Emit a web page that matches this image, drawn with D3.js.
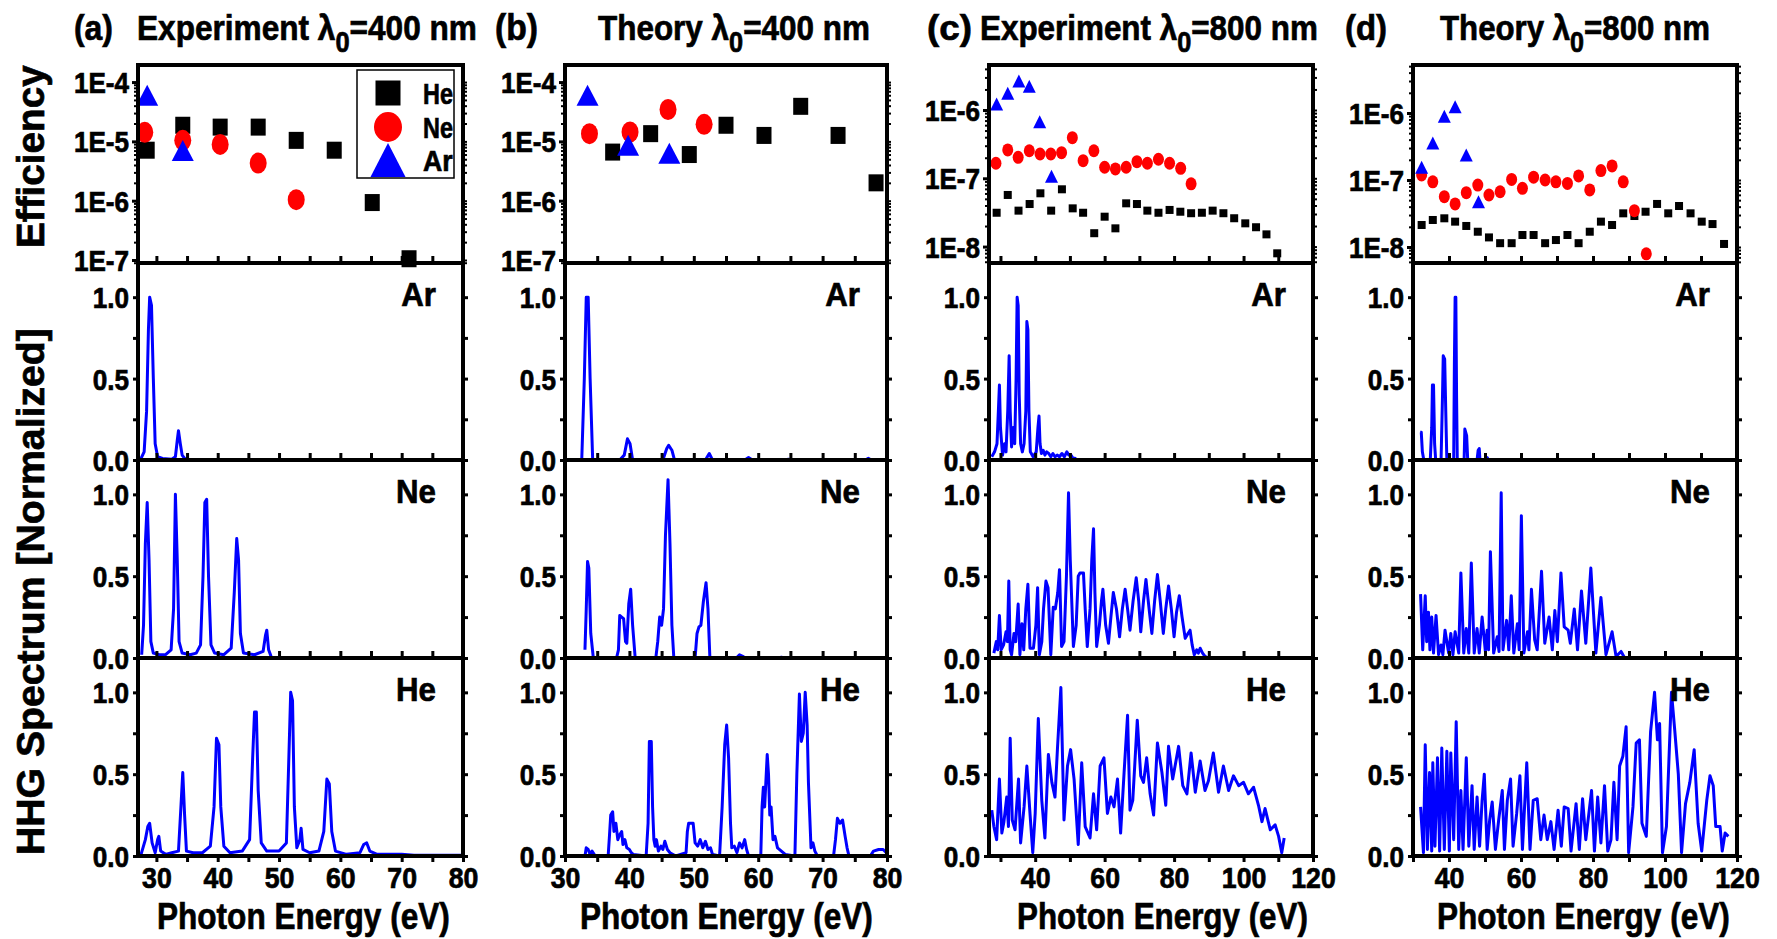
<!DOCTYPE html>
<html>
<head>
<meta charset="utf-8">
<script src="https://d3js.org/d3.v7.min.js"></script>
<style>
  body { margin: 0; background: #fff; }
  svg text { font-family: "Liberation Sans", Arial, Helvetica, sans-serif; font-weight: bold; fill: #000; stroke: #000; stroke-width: 0.7px; }
</style>
</head>
<body>
<svg id="chart" width="1777" height="939"></svg>
<script>
// ---------- data ----------
const panelIds = ["a", "b", "c", "d"];
const panelKind = ["Experiment", "Theory", "Experiment", "Theory"];
const panelLambda = [400, 400, 800, 800];
const gases = ["Ar", "Ne", "He"];           // spectrum rows, top to bottom
const legendGases = ["He", "Ne", "Ar"];

const xDomains = [[27, 80], [30, 80], [26.7, 120], [30, 120]];
const xTicks = [
  [30, 35, 40, 45, 50, 55, 60, 65, 70, 75, 80],
  [30, 35, 40, 45, 50, 55, 60, 65, 70, 75, 80],
  [30, 40, 50, 60, 70, 80, 90, 100, 110, 120],
  [30, 40, 50, 60, 70, 80, 90, 100, 110, 120]
];
const xTickLabels = [
  [30, 40, 50, 60, 70, 80],
  [30, 40, 50, 60, 70, 80],
  [40, 60, 80, 100, 120],
  [40, 60, 80, 100, 120]
];
const effDomains = [[8.9e-8, 1.94e-4], [8.9e-8, 1.94e-4], [5.75e-9, 4.56e-6], [5.77e-9, 5.2e-6]];
const effDecades = [[1e-4, 1e-5, 1e-6, 1e-7], [1e-4, 1e-5, 1e-6, 1e-7], [1e-6, 1e-7, 1e-8], [1e-6, 1e-7, 1e-8]];
const specTicks = [0, 0.25, 0.5, 0.75, 1.0];
const specTickLabels = [0, 0.5, 1.0];

// efficiency points [eV, efficiency]
const effA_He = [[28.5,7.1e-6],[34.3,1.87e-5],[40.4,1.74e-5],[46.6,1.74e-5],[52.8,1.04e-5],[59.0,7.1e-6],[65.2,9.3e-7],[71.2,1.05e-7]];
const effA_Ne = [[28.1,1.42e-5],[34.3,1.04e-5],[40.4,8.9e-6],[46.6,4.3e-6],[52.8,1.04e-6]];
const effA_Ar = [[28.5,6.0e-5],[34.3,7.0e-6]];

const effB_He = [[37.4,6.6e-6],[43.3,1.35e-5],[49.3,6.0e-6],[55.0,1.87e-5],[60.9,1.26e-5],[66.6,3.9e-5],[72.4,1.26e-5],[78.3,2.0e-6]];
const effB_Ne = [[33.8,1.35e-5],[40.1,1.44e-5],[46.0,3.45e-5],[51.6,1.94e-5]];
const effB_Ar = [[33.5,6.0e-5],[39.8,8.6e-6],[46.2,6.3e-6]];

const effC_He = [[28.9,3.13e-8],[32.1,5.7e-8],[35.2,3.36e-8],[38.4,4.2e-8],[41.5,6.03e-8],[44.6,3.36e-8],[47.7,6.9e-8],[50.8,3.63e-8],[53.8,3.13e-8],[57.0,1.57e-8],[60.0,2.74e-8],[63.1,1.85e-8],[66.2,4.3e-8],[69.3,4.2e-8],[72.3,3.36e-8],[75.5,3.13e-8],[78.7,3.44e-8],[81.8,3.24e-8],[84.9,3.08e-8],[88.0,3.13e-8],[91.1,3.36e-8],[94.2,3.08e-8],[97.3,2.6e-8],[100.5,2.19e-8],[103.6,1.92e-8],[106.6,1.51e-8],[109.7,7.97e-9]];
const effC_Ne = [[28.7,1.66e-7],[32.1,2.6e-7],[35.1,2.03e-7],[38.3,2.53e-7],[41.4,2.27e-7],[44.5,2.27e-7],[47.6,2.37e-7],[50.7,3.93e-7],[53.8,1.81e-7],[56.9,2.53e-7],[60.0,1.45e-7],[63.1,1.37e-7],[66.2,1.45e-7],[69.3,1.75e-7],[72.3,1.66e-7],[75.5,1.9e-7],[78.7,1.66e-7],[81.9,1.4e-7],[84.9,8.3e-8]];
const effC_Ar = [[28.9,1.22e-6],[32.1,1.76e-6],[35.3,2.66e-6],[38.3,2.22e-6],[41.3,6.74e-7],[44.7,1.07e-7]];

const effD_He = [[32.4,2.13e-8],[35.5,2.53e-8],[38.7,2.68e-8],[41.7,2.39e-8],[44.8,2.06e-8],[48.0,1.69e-8],[51.1,1.39e-8],[54.2,1.14e-8],[57.4,1.14e-8],[60.4,1.51e-8],[63.5,1.51e-8],[66.7,1.14e-8],[69.7,1.27e-8],[72.9,1.51e-8],[76.0,1.14e-8],[79.1,1.69e-8],[82.2,2.39e-8],[85.3,2.13e-8],[88.4,3.18e-8],[91.5,2.9e-8],[94.6,3.36e-8],[97.8,4.39e-8],[100.9,3.18e-8],[103.9,4.09e-8],[107.1,3.18e-8],[110.2,2.39e-8],[113.2,2.2e-8],[116.4,1.11e-8]];
const effD_Ne = [[32.4,1.19e-7],[35.5,9.4e-8],[38.7,5.64e-8],[41.7,4.39e-8],[44.8,6.46e-8],[48.0,8.4e-8],[51.1,5.97e-8],[54.2,6.68e-8],[57.4,1.02e-7],[60.4,7.52e-8],[63.5,1.1e-7],[66.7,1.0e-7],[69.7,9.4e-8],[72.9,8.9e-8],[76.0,1.15e-7],[79.1,7.1e-8],[82.2,1.38e-7],[85.3,1.62e-7],[88.4,9.4e-8],[91.5,3.48e-8],[94.8,7.9e-9]];
const effD_Ar = [[32.4,1.55e-7],[35.5,3.56e-7],[38.7,8.9e-7],[41.7,1.24e-6],[44.8,2.36e-7],[48.2,4.74e-8]];

// normalized spectra [eV, intensity]
const specA_Ar = [[27.5,0.01],[28.0,0.05],[28.4,0.3],[28.7,0.8],[28.9,1.0],[29.2,0.95],[29.5,0.5],[29.8,0.1],[30.2,0.02],[31,0.01],[32.5,0.005],[33.1,0.02],[33.4,0.12],[33.6,0.18],[33.9,0.1],[34.2,0.03],[34.6,0.01],[35.0,0.005]];
const specA_Ne = [[27.6,0.02],[27.9,0.2],[28.2,0.7],[28.5,0.95],[28.8,0.6],[29.1,0.1],[29.5,0.03],[30.5,0.02],[31.5,0.02],[32.4,0.05],[32.8,0.3],[33.1,1.0],[33.4,0.6],[33.7,0.1],[34.2,0.03],[35.5,0.02],[36.5,0.03],[37.2,0.08],[37.6,0.5],[37.9,0.95],[38.2,0.97],[38.5,0.5],[38.9,0.08],[39.5,0.03],[41,0.02],[42.2,0.06],[42.7,0.4],[43.1,0.73],[43.4,0.6],[43.7,0.15],[44.2,0.03],[46,0.02],[47.4,0.04],[47.8,0.14],[48.0,0.17],[48.3,0.05],[48.7,0.01]];
const specA_He = [[27.5,0.01],[28.2,0.1],[28.6,0.18],[28.9,0.2],[29.3,0.08],[29.8,0.02],[30.2,0.1],[30.4,0.12],[30.7,0.03],[31.5,0.01],[32.5,0.02],[33.6,0.03],[34.0,0.3],[34.3,0.51],[34.6,0.25],[34.9,0.03],[36,0.02],[37.5,0.02],[38.8,0.06],[39.4,0.3],[39.8,0.72],[40.2,0.68],[40.5,0.3],[41.0,0.06],[42,0.02],[44,0.03],[45.2,0.1],[45.7,0.6],[46.0,0.88],[46.3,0.88],[46.6,0.4],[47.1,0.08],[48,0.03],[50,0.03],[51.2,0.08],[51.6,0.6],[51.9,1.0],[52.2,0.95],[52.5,0.3],[52.9,0.05],[53.4,0.1],[53.6,0.17],[53.9,0.04],[55,0.02],[56.5,0.03],[57.3,0.15],[57.8,0.47],[58.2,0.44],[58.6,0.15],[59.2,0.03],[61,0.01],[63.2,0.02],[63.8,0.07],[64.3,0.08],[64.8,0.03],[66,0.01],[70,0.01],[72,0.004],[80,0.004]];

const specB_Ar = [[32.6,0.0],[33.0,0.5],[33.3,1.0],[33.6,1.0],[33.9,0.5],[34.3,0.0],[38.5,0.0],[39.2,0.03],[39.7,0.13],[40.1,0.1],[40.5,0.0],[45.2,0.0],[45.8,0.07],[46.1,0.09],[46.6,0.06],[47.0,0.0],[51.8,0.0],[52.4,0.04],[52.9,0.0],[57.9,0.0],[58.5,0.015],[59.1,0.0],[64.1,0.0],[64.7,0.005],[65.3,0.0],[76.6,0.0],[77.1,0.01],[77.6,0.0],[80,0.0]];
const specB_Ne = [[33.1,0.05],[33.3,0.3],[33.5,0.59],[33.7,0.55],[34.0,0.15],[34.4,0.0],[38.0,0.0],[38.3,0.05],[38.5,0.26],[38.8,0.25],[39.1,0.24],[39.4,0.1],[39.6,0.09],[39.9,0.33],[40.2,0.42],[40.5,0.2],[40.9,0.0],[44.1,0.0],[44.4,0.1],[44.7,0.25],[45.0,0.2],[45.3,0.3],[45.6,0.75],[46.0,1.09],[46.3,0.7],[46.6,0.2],[46.9,0.0],[50.2,0.0],[50.5,0.15],[50.8,0.19],[51.1,0.2],[51.5,0.35],[51.9,0.46],[52.2,0.3],[52.5,0.0],[56.6,0.0],[57.1,0.02],[57.6,0.01],[58,0.0],[63.2,0.0],[63.6,0.005],[64,0.0]];
const specB_He = [[33.1,0.0],[33.3,0.05],[33.6,0.04],[33.9,0.01],[34.2,0.03],[34.7,0.0],[36.7,0.0],[36.9,0.12],[37.1,0.25],[37.4,0.27],[37.6,0.15],[37.9,0.2],[38.2,0.1],[38.5,0.13],[38.8,0.15],[39.0,0.07],[39.3,0.1],[39.6,0.05],[40.0,0.04],[40.3,0.02],[40.6,0.01],[42.6,0.0],[42.9,0.2],[43.1,0.70],[43.4,0.70],[43.6,0.3],[43.8,0.1],[44.0,0.06],[44.2,0.1],[44.5,0.03],[44.9,0.06],[45.2,0.04],[45.5,0.09],[45.9,0.04],[46.3,0.02],[47.2,0.0],[48.8,0.02],[49.0,0.15],[49.2,0.2],[49.6,0.2],[49.9,0.2],[50.2,0.08],[50.6,0.06],[51.0,0.1],[51.4,0.05],[51.8,0.09],[52.2,0.04],[52.6,0.05],[52.9,0.01],[54.0,0.0],[54.4,0.3],[54.8,0.68],[55.1,0.8],[55.4,0.6],[55.7,0.2],[55.9,0.05],[56.3,0.06],[56.7,0.02],[57.1,0.08],[57.5,0.05],[57.9,0.1],[58.2,0.04],[58.5,0.0],[60.4,0.0],[60.6,0.3],[60.8,0.42],[61.0,0.3],[61.4,0.62],[61.6,0.5],[61.8,0.25],[62.0,0.3],[62.3,0.1],[62.6,0.12],[63.0,0.05],[63.6,0.03],[64.2,0.01],[65.7,0.0],[66.0,0.5],[66.4,0.99],[66.7,0.7],[67.0,0.75],[67.3,1.0],[67.6,0.8],[67.8,0.45],[68.2,0.05],[68.5,0.08],[68.8,0.03],[69.2,0.0],[71.7,0.0],[72.0,0.1],[72.3,0.23],[72.7,0.2],[73.1,0.22],[73.5,0.12],[73.8,0.05],[74.1,0.0],[77.4,0.0],[77.9,0.03],[78.7,0.04],[79.4,0.04],[79.9,0.02]];

const specC_Ar = [[27.5,0.02],[28.3,0.05],[29.0,0.1],[29.4,0.3],[29.7,0.46],[30.0,0.2],[30.6,0.03],[31.2,0.1],[31.6,0.05],[32.1,0.3],[32.5,0.64],[32.8,0.3],[33.2,0.08],[33.7,0.2],[34.1,0.1],[34.5,0.5],[34.8,1.0],[35.1,0.95],[35.4,0.4],[35.8,0.1],[36.3,0.05],[36.8,0.1],[37.3,0.3],[37.6,0.85],[37.9,0.8],[38.2,0.3],[38.6,0.05],[39.4,0.02],[40.3,0.05],[40.8,0.2],[41.1,0.27],[41.4,0.1],[41.8,0.04],[42.3,0.06],[42.8,0.03],[43.3,0.05],[43.9,0.04],[44.5,0.02],[45.1,0.04],[45.7,0.02],[46.4,0.03],[47.0,0.02],[47.7,0.04],[48.4,0.02],[49.1,0.05],[49.7,0.03],[50.3,0.03],[50.9,0.01],[51.5,0.01],[52.0,0.0]];
const specC_Ne = [[28.1,0.03],[28.8,0.1],[29.2,0.05],[29.7,0.26],[30.2,0.05],[30.9,0.08],[31.6,0.16],[32.0,0.1],[32.4,0.47],[32.8,0.05],[33.2,0.02],[33.9,0.15],[34.4,0.1],[35.1,0.33],[35.6,0.02],[36.2,0.21],[36.7,0.05],[37.3,0.3],[37.9,0.45],[38.5,0.06],[39.5,0.06],[40.2,0.2],[40.7,0.43],[41.2,0.02],[41.9,0.1],[42.4,0.3],[43.1,0.47],[43.7,0.43],[44.5,0.02],[45.2,0.31],[45.8,0.3],[46.5,0.4],[47.0,0.54],[47.6,0.07],[48.3,0.1],[49.0,0.5],[49.6,1.01],[50.1,0.6],[51.0,0.07],[51.8,0.2],[52.4,0.5],[52.9,0.52],[53.9,0.52],[54.4,0.3],[55.0,0.07],[55.8,0.3],[56.3,0.6],[56.8,0.79],[57.2,0.4],[57.7,0.07],[58.5,0.2],[59.1,0.35],[59.5,0.42],[60.3,0.2],[61.1,0.09],[61.8,0.25],[62.5,0.40],[63.4,0.3],[64.3,0.13],[65.1,0.3],[65.9,0.42],[66.6,0.3],[67.3,0.17],[68.2,0.35],[69.1,0.49],[69.8,0.35],[70.4,0.16],[71.2,0.35],[71.9,0.48],[72.8,0.3],[73.6,0.15],[74.4,0.35],[75.2,0.51],[76.0,0.35],[76.9,0.15],[77.6,0.3],[78.4,0.44],[79.2,0.3],[80.0,0.13],[80.7,0.28],[81.5,0.38],[82.3,0.25],[83.2,0.12],[84.0,0.15],[84.6,0.17],[85.2,0.08],[85.8,0.02],[86.5,0.05],[87.0,0.03],[87.5,0.06],[88.2,0.03],[88.9,0.01],[89.9,0.0]];
const specC_He = [[27.5,0.28],[28.1,0.18],[28.9,0.10],[29.7,0.47],[30.4,0.14],[31.0,0.21],[31.8,0.36],[32.3,0.18],[32.8,0.72],[33.4,0.22],[34.2,0.16],[35.2,0.47],[35.8,0.08],[36.8,0.30],[37.6,0.55],[38.5,0.26],[39.3,0.02],[40.0,0.26],[40.9,0.84],[41.9,0.34],[42.8,0.11],[43.8,0.62],[44.8,0.45],[45.7,0.36],[46.4,0.65],[47.4,1.03],[48.3,0.22],[49.3,0.55],[50.2,0.65],[51.2,0.47],[52.4,0.07],[53.4,0.57],[54.4,0.18],[55.8,0.11],[56.8,0.38],[57.7,0.16],[58.7,0.55],[59.8,0.60],[60.8,0.26],[61.8,0.36],[62.7,0.30],[63.7,0.47],[64.6,0.14],[65.6,0.51],[66.6,0.86],[67.3,0.28],[68.1,0.34],[69.4,0.83],[70.4,0.49],[71.2,0.45],[72.1,0.60],[73.1,0.38],[74.1,0.25],[75.2,0.69],[76.5,0.51],[77.6,0.31],[78.4,0.67],[79.6,0.47],[81.3,0.67],[82.5,0.43],[83.7,0.38],[84.9,0.63],[86.1,0.39],[87.5,0.58],[88.9,0.40],[89.9,0.46],[91.3,0.63],[92.8,0.39],[94.2,0.55],[95.7,0.40],[97.1,0.49],[98.6,0.43],[100.0,0.45],[101.4,0.38],[102.9,0.42],[104.3,0.31],[105.3,0.21],[106.2,0.29],[107.7,0.16],[109.1,0.19],[110.1,0.12],[111.0,0.02],[111.7,0.11]];

const specD_Ar = [[32.0,0.17],[32.3,0.17],[32.6,0.05],[33.0,0.0],[34.8,0.0],[35.2,0.2],[35.4,0.46],[35.7,0.46],[36.0,0.1],[36.3,0.0],[37.8,0.0],[38.2,0.4],[38.4,0.64],[38.8,0.62],[39.1,0.3],[39.4,0.0],[41.3,0.0],[41.5,0.6],[41.7,1.0],[41.9,1.0],[42.1,0.4],[42.3,0.0],[44.2,0.0],[44.4,0.19],[44.9,0.15],[45.2,0.0],[47.8,0.0],[48.1,0.06],[48.4,0.07],[48.6,0.0],[50.3,0.0],[50.6,0.015],[51.0,0.0]];
const specD_Ne = [[32.1,0.39],[32.7,0.05],[33.4,0.38],[33.8,0.1],[34.3,0.28],[34.7,0.05],[35.2,0.25],[35.7,0.03],[36.4,0.26],[37.1,0.02],[37.8,0.08],[38.3,0.02],[38.9,0.17],[39.9,0.03],[40.5,0.15],[41.1,0.02],[41.7,0.16],[42.7,0.03],[43.3,0.52],[44.1,0.03],[44.8,0.18],[45.5,0.03],[46.2,0.58],[47.0,0.03],[47.8,0.18],[48.4,0.03],[49.2,0.25],[50.1,0.04],[50.6,0.17],[51.0,0.05],[51.5,0.65],[52.4,0.03],[53.4,0.13],[53.9,0.04],[54.5,1.01],[55.0,0.05],[56.0,0.23],[56.6,0.05],[57.3,0.38],[58.0,0.03],[59.0,0.21],[59.5,0.05],[60.1,0.87],[60.8,0.03],[61.8,0.16],[62.2,0.05],[62.9,0.42],[63.8,0.11],[64.5,0.05],[65.7,0.53],[66.6,0.09],[67.8,0.25],[68.7,0.05],[69.4,0.29],[70.1,0.1],[71.1,0.52],[72.0,0.19],[73.1,0.17],[73.7,0.09],[74.8,0.30],[75.7,0.05],[76.8,0.41],[78.0,0.09],[79.4,0.55],[80.8,0.03],[82.2,0.37],[83.6,0.02],[85.3,0.16],[86.4,0.01],[87.8,0.04],[88.8,0.0]];
const specD_He = [[32.1,0.30],[32.9,0.02],[33.4,0.68],[34.0,0.04],[34.6,0.51],[35.2,0.03],[35.5,0.57],[36.1,0.06],[36.8,0.60],[37.4,0.03],[38.0,0.66],[38.7,0.04],[39.4,0.64],[40.1,0.03],[40.5,0.63],[41.3,0.10],[42.0,0.82],[42.7,0.04],[43.3,0.40],[43.9,0.04],[44.8,0.60],[45.5,0.06],[46.4,0.43],[47.0,0.04],[47.8,0.36],[48.5,0.06],[49.2,0.34],[49.8,0.50],[50.6,0.04],[51.3,0.22],[52.0,0.33],[52.9,0.04],[53.8,0.22],[54.8,0.40],[55.4,0.04],[56.2,0.34],[57.1,0.47],[57.8,0.06],[58.8,0.26],[59.7,0.49],[60.4,0.04],[61.6,0.57],[62.5,0.04],[63.4,0.34],[64.5,0.35],[65.5,0.10],[66.4,0.25],[67.3,0.10],[68.3,0.21],[69.2,0.04],[70.3,0.28],[71.2,0.06],[72.0,0.30],[73.1,0.29],[73.9,0.03],[75.3,0.32],[76.2,0.04],[77.1,0.35],[78.0,0.10],[79.6,0.40],[80.4,0.03],[81.3,0.36],[82.2,0.08],[83.2,0.43],[84.1,0.03],[85.0,0.10],[85.8,0.45],[86.7,0.10],[87.4,0.55],[88.3,0.61],[89.2,0.79],[89.9,0.02],[91.1,0.30],[92.0,0.69],[92.9,0.71],[93.6,0.20],[94.8,0.12],[96.0,0.76],[97.1,1.0],[97.9,0.71],[98.5,0.81],[99.3,0.02],[100.4,0.18],[101.8,1.0],[102.7,0.77],[103.7,0.50],[104.6,0.02],[105.7,0.32],[106.9,0.45],[108.1,0.65],[109.2,0.20],[110.2,0.03],[111.6,0.34],[112.5,0.49],[113.4,0.43],[114.1,0.18],[115.3,0.18],[115.9,0.03],[116.7,0.14],[117.6,0.12]];

const effSeries = [
  { He: effA_He, Ne: effA_Ne, Ar: effA_Ar },
  { He: effB_He, Ne: effB_Ne, Ar: effB_Ar },
  { He: effC_He, Ne: effC_Ne, Ar: effC_Ar },
  { He: effD_He, Ne: effD_Ne, Ar: effD_Ar }
];
const specSeries = [
  { Ar: specA_Ar, Ne: specA_Ne, He: specA_He },
  { Ar: specB_Ar, Ne: specB_Ne, He: specB_He },
  { Ar: specC_Ar, Ne: specC_Ne, He: specC_He },
  { Ar: specD_Ar, Ne: specD_Ne, He: specD_He }
];

// ---------- layout ----------
const colX = [[138, 463], [565, 887], [989, 1313], [1413, 1737]];
const rowY = [[65, 263], [263, 460], [460, 658], [658, 856]];
const gasColor = { He: "#000000", Ne: "#ff0000", Ar: "#0000ff" };
const markerSize = [
  { sq: [15, 17], ci: [8.5, 10.5], tr: [22, 21] },
  { sq: [15, 17], ci: [8.5, 10.5], tr: [22, 21] },
  { sq: [8, 8], ci: [5.5, 6.5], tr: [13, 13] },
  { sq: [8, 8], ci: [5.5, 6.5], tr: [13, 13] }
];

const svg = d3.select("#chart");

function triPath(cx, cy, w, h) {
  return `M${cx},${cy - h / 2}L${cx + w / 2},${cy + h / 2}L${cx - w / 2},${cy + h / 2}Z`;
}

function drawMarker(g, gas, cx, cy, ms) {
  if (gas === "He") {
    g.append("rect").attr("x", cx - ms.sq[0] / 2).attr("y", cy - ms.sq[1] / 2)
      .attr("width", ms.sq[0]).attr("height", ms.sq[1]).attr("fill", gasColor.He);
  } else if (gas === "Ne") {
    g.append("ellipse").attr("cx", cx).attr("cy", cy).attr("rx", ms.ci[0]).attr("ry", ms.ci[1])
      .attr("fill", gasColor.Ne);
  } else {
    g.append("path").attr("d", triPath(cx, cy, ms.tr[0], ms.tr[1])).attr("fill", gasColor.Ar);
  }
}

// axis look: no domain line (frame is drawn separately), thick ticks, bold labels
function styleAxis(g, fontSize) {
  g.select(".domain").remove();
  g.selectAll("line").attr("stroke", "#000").attr("stroke-width", 3);
  g.selectAll("text").filter(function () { return this.textContent === ""; }).remove();
  g.selectAll("text").attr("font-size", fontSize).attr("fill", "#000")
    .style("font-family", '"Liberation Sans", Arial, sans-serif').style("font-weight", "bold");
}

// text squeezed horizontally to a target width (the original uses a condensed face)
function fitText(sel, width) {
  const w = sel.node().getBBox().width;
  return width / w;
}

panelIds.forEach((id, i) => {
  const [x0, x1] = colX[i];
  const x = d3.scaleLinear().domain(xDomains[i]).range([x0, x1]);
  const ms = markerSize[i];

  // ----- efficiency panel -----
  const [ey0, ey1] = rowY[0];
  const yE = d3.scaleLog().domain(effDomains[i]).range([ey1, ey0]);
  const ge = svg.append("g");
  legendGases.forEach(gas => {
    effSeries[i][gas].forEach(d => drawMarker(ge, gas, x(d[0]), yE(d[1]), ms));
  });

  // log ticks
  const [lo, hi] = effDomains[i];
  const minors = [];
  for (let k = Math.floor(Math.log10(lo)); k <= Math.ceil(Math.log10(hi)); k++) {
    for (let m = 2; m <= 9; m++) {
      const v = m * Math.pow(10, k);
      if (v > lo && v < hi) minors.push(v);
    }
  }
  const axL = svg.append("g").attr("transform", `translate(${x0},0)`)
    .call(d3.axisLeft(yE).tickValues(effDecades[i]).tickSize(6).tickPadding(4)
      .tickFormat(d => "1E" + Math.round(Math.log10(d))));
  styleAxis(axL, 29);
  axL.selectAll("text").attr("dy", "0.36em").attr("transform", "scale(0.9,1)");
  const axLm = svg.append("g").attr("transform", `translate(${x0},0)`)
    .call(d3.axisLeft(yE).tickValues(minors).tickSize(4).tickFormat(""));
  styleAxis(axLm, 10);
  axLm.selectAll("line").attr("stroke-width", 2);
  const axR = svg.append("g").attr("transform", `translate(${x1},0)`)
    .call(d3.axisRight(yE).tickValues(effDecades[i].concat(minors)).tickSize(4).tickFormat(""));
  styleAxis(axR, 10);
  axR.selectAll("line").attr("stroke-width", 2);
  const axBe = svg.append("g").attr("transform", `translate(0,${ey1})`)
    .call(d3.axisBottom(x).tickValues(xTicks[i]).tickSize(-7).tickFormat(""));
  styleAxis(axBe, 10);
  svg.append("rect").attr("x", x0).attr("y", ey0).attr("width", x1 - x0).attr("height", ey1 - ey0)
    .attr("fill", "none").attr("stroke", "#000").attr("stroke-width", 4);

  // ----- spectrum panels -----
  gases.forEach((gas, r) => {
    const [sy0, sy1] = rowY[r + 1];
    const y = d3.scaleLinear().domain([0, 1.21]).range([sy1, sy0]);
    const clipId = `clip-${id}-${gas}`;
    svg.append("clipPath").attr("id", clipId).append("rect")
      .attr("x", x0).attr("y", sy0).attr("width", x1 - x0).attr("height", sy1 - sy0);
    const line = d3.line().x(d => x(d[0])).y(d => y(d[1]));
    svg.append("path").datum(specSeries[i][gas]).attr("clip-path", `url(#${clipId})`)
      .attr("d", line).attr("fill", "none").attr("stroke", "#0000ff")
      .attr("stroke-width", 3).attr("stroke-linejoin", "round");

    const aL = svg.append("g").attr("transform", `translate(${x0},0)`)
      .call(d3.axisLeft(y).tickValues(specTicks).tickSize(5).tickPadding(5)
        .tickFormat(d => specTickLabels.includes(d) ? d.toFixed(1) : ""));
    styleAxis(aL, 29);
    aL.selectAll("text").attr("dy", "0.36em").attr("transform", "scale(0.9,1)");
    const aR = svg.append("g").attr("transform", `translate(${x1},0)`)
      .call(d3.axisRight(y).tickValues(specTicks).tickSize(5).tickFormat(""));
    styleAxis(aR, 10);

    const last = r === gases.length - 1;
    const aB = svg.append("g").attr("transform", `translate(0,${sy1})`)
      .call(d3.axisBottom(x).tickValues(xTicks[i]).tickSize(last ? 6 : -7).tickPadding(5)
        .tickFormat(d => last && xTickLabels[i].includes(d) ? d : ""));
    styleAxis(aB, 29);
    aB.selectAll("text").attr("transform", "scale(0.92,1)");

    svg.append("rect").attr("x", x0).attr("y", sy0).attr("width", x1 - x0).attr("height", sy1 - sy0)
      .attr("fill", "none").attr("stroke", "#000").attr("stroke-width", 4);

    const gl = svg.append("text").attr("font-size", 34).text(gas);
    const gw = gl.node().getBBox().width * 0.92;
    gl.attr("transform", `translate(${x1 - 27 - gw},${sy0 + 43}) scale(0.92,1)`);
  });

  // ----- x-axis title -----
  const xTitleSpan = [[157, 450], [580, 873], [1017, 1308], [1437, 1730]][i];
  const xt = svg.append("text").attr("font-size", 37).text("Photon Energy (eV)");
  xt.attr("transform", `translate(${xTitleSpan[0]},929) scale(${fitText(xt, xTitleSpan[1] - xTitleSpan[0])},1)`);

  // ----- panel title -----
  const labSpan = [[74, 113], [495, 538], [927, 972], [1345, 1387]][i];
  const titleSpan = [[137, 477], [598, 870], [980, 1318], [1440, 1710]][i];
  const lab = svg.append("text").attr("font-size", 36).text(`(${id})`);
  lab.attr("transform", `translate(${labSpan[0]},40) scale(${fitText(lab, labSpan[1] - labSpan[0])},1)`);
  const tt = svg.append("text").attr("font-size", 36);
  tt.append("tspan").text(`${panelKind[i]} λ`);
  tt.append("tspan").attr("font-size", 29).attr("dy", 12).text("0");
  tt.append("tspan").attr("dy", -12).text(`=${panelLambda[i]} nm`);
  tt.attr("transform", `translate(${titleSpan[0]},40) scale(${fitText(tt, titleSpan[1] - titleSpan[0])},1)`);
});

// ----- legend in panel (a) -----
const lg = svg.append("g");
lg.append("rect").attr("x", 357).attr("y", 70).attr("width", 97).attr("height", 108)
  .attr("fill", "#fff").attr("stroke", "#000").attr("stroke-width", 1.5);
const legendMs = { sq: [25, 25], ci: [14, 15], tr: [35, 34] };
legendGases.forEach((gas, k) => {
  const cy = [93, 127, 160][k];
  drawMarker(lg, gas, 388, cy, legendMs);
  const lt = lg.append("text").attr("font-size", 30).text(gas);
  lt.attr("transform", `translate(423,${cy + 11}) scale(${fitText(lt, 30)},1)`);
});

// ----- y-axis titles -----
const yt1 = svg.append("text").attr("font-size", 39).text("Efficiency");
yt1.attr("transform", `translate(44,248) rotate(-90) scale(${fitText(yt1, 183)},1)`);
const yt2 = svg.append("text").attr("font-size", 39).text("HHG Spectrum [Normalized]");
yt2.attr("transform", `translate(44,855) rotate(-90) scale(${fitText(yt2, 527)},1)`);
</script>
</body>
</html>
